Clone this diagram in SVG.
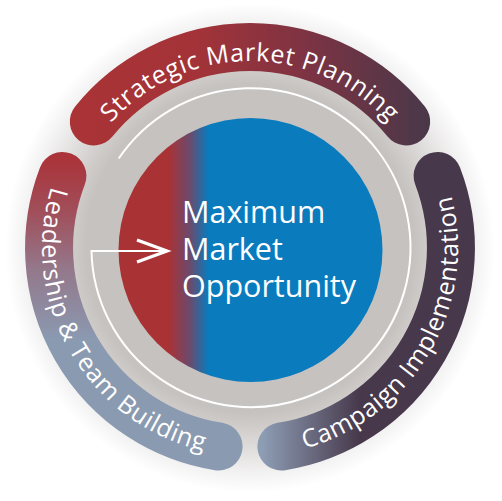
<svg xmlns="http://www.w3.org/2000/svg" width="502" height="501" viewBox="0 0 502 501">
  <defs>
    <radialGradient id="glow" gradientUnits="userSpaceOnUse" cx="250" cy="248" r="245">
      <stop offset="0" stop-color="#c6c2c0"/>
      <stop offset="0.67" stop-color="#c6c2c0"/>
      <stop offset="0.73" stop-color="#cfccca"/>
      <stop offset="0.82" stop-color="#e0dedd"/>
      <stop offset="0.92" stop-color="#f3f2f2"/>
      <stop offset="1" stop-color="#ffffff"/>
    </radialGradient>
    <linearGradient id="core" x1="0" y1="0" x2="1" y2="0">
      <stop offset="0" stop-color="#a93235"/>
      <stop offset="0.19" stop-color="#a93235"/>
      <stop offset="0.27" stop-color="#6b4a6d"/>
      <stop offset="0.34" stop-color="#0a7bbd"/>
      <stop offset="1" stop-color="#0a7bbd"/>
    </linearGradient>
    <linearGradient id="gTop" gradientUnits="userSpaceOnUse" x1="70" y1="0" x2="430" y2="0">
      <stop offset="0" stop-color="#aa3336"/>
      <stop offset="0.35" stop-color="#a33338"/>
      <stop offset="0.65" stop-color="#7e3343"/>
      <stop offset="1" stop-color="#483849"/>
    </linearGradient>
    <linearGradient id="gRight" gradientUnits="userSpaceOnUse" x1="262" y1="0" x2="360" y2="0">
      <stop offset="0" stop-color="#8d9db4"/>
      <stop offset="1" stop-color="#47384b"/>
    </linearGradient>
    <linearGradient id="gLeft" gradientUnits="userSpaceOnUse" x1="0" y1="160" x2="0" y2="340">
      <stop offset="0" stop-color="#aa343a"/>
      <stop offset="0.3" stop-color="#a0505c"/>
      <stop offset="0.6" stop-color="#94778a"/>
      <stop offset="1" stop-color="#8a9ab1"/>
    </linearGradient>
    <path id="pTop" d="M 74.3 184 A 187 187 0 0 1 425.7 184"/>
    <path id="pRight" d="M 250 456 A 208 208 0 0 0 430.1 144"/>
    <path id="pLeft" d="M 69.9 144 A 208 208 0 0 0 250 456"/>
  </defs>
  <style>
    .band { fill: none; stroke-width: 48; stroke-linecap: round; }
    .blabel { font-family: "Open Sans", "Liberation Sans", sans-serif; font-size: 25px; letter-spacing: 0.6px; fill: #ffffff; }
    .clabel { font-family: "Open Sans", "Liberation Sans", sans-serif; font-size: 30.5px; fill: #ffffff; }
    .wline { fill: none; stroke: #ffffff; stroke-width: 2; }
  </style>
  <rect width="502" height="501" fill="#ffffff"/>
  <circle cx="250" cy="248" r="245" fill="url(#glow)"/>

  <g id="core-node">
    <circle cx="250.5" cy="250" r="132" fill="url(#core)"/>
    <text class="clabel"><tspan x="182" y="223">Maximum</tspan><tspan x="182" y="260">Market</tspan><tspan x="182" y="297">Opportunity</tspan></text>
  </g>

  <g id="connectors">
    <path class="wline" d="M 118.7 158.5 A 159.5 159.5 0 1 1 91.5 251 L 166 251"/>
    <path d="M 137 240 L 167 251 L 137 262" fill="none" stroke="#ffffff" stroke-width="3.2"/>
  </g>

  <g id="strategic-market-planning">
    <path class="band" stroke="url(#gTop)" d="M 93.8 121.5 A 201 201 0 0 1 406.2 121.5"/>
    <text class="blabel"><textPath href="#pTop" startOffset="50%" text-anchor="middle">Strategic Market Planning</textPath></text>
  </g>

  <g id="campaign-implementation">
    <path class="band" stroke="url(#gRight)" d="M 437.6 176 A 201 201 0 0 1 281.4 446.5"/>
    <text class="blabel"><textPath href="#pRight" startOffset="50%" text-anchor="middle">Campaign Implementation</textPath></text>
  </g>

  <g id="leadership-team-building">
    <path class="band" stroke="url(#gLeft)" d="M 218.6 446.5 A 201 201 0 0 1 62.4 176"/>
    <text class="blabel"><textPath href="#pLeft" startOffset="50%" text-anchor="middle">Leadership &amp; Team Building</textPath></text>
  </g>
</svg>
